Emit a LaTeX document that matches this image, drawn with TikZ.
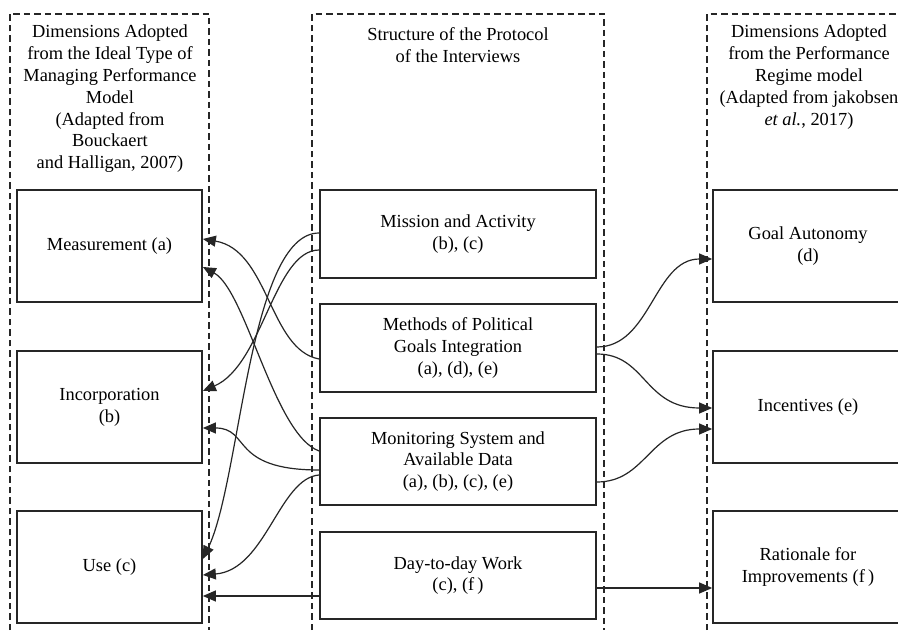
\documentclass[tikz,border=0pt]{standalone}
\usepackage{fontspec}
\setmainfont{Liberation Serif}
\usetikzlibrary{arrows.meta}
\begin{document}
\begin{tikzpicture}[x=1pt,y=1pt,
  font=\fontsize{18.4}{21.8}\selectfont,
  container/.style={draw=black!85, line width=1.4pt, dash pattern=on 6.5pt off 4pt},
  boxl/.style={draw=black!85, line width=1.7pt, minimum width=185pt, minimum height=112pt, align=center, inner sep=2pt},
  boxm/.style={draw=black!85, line width=1.7pt, minimum width=276pt, minimum height=88pt, align=center, inner sep=2pt},
  boxr/.style={draw=black!85, line width=1.7pt, minimum width=190pt, minimum height=112pt, align=center, inner sep=2pt},
  head/.style={align=center, inner sep=0pt},
  conn/.style={draw=black!85, line width=1.2pt, -{Triangle[length=13pt,width=11pt]}}
]
\useasboundingbox (0,0) rectangle (898,630);
\fill[white] (0,0) rectangle (898,630);

% dashed containers
\draw[container] (10,0) -- (10,616) -- (209,616) -- (209,0);
\draw[container] (312,0) -- (312,616) -- (604,616) -- (604,0);
\draw[container] (707,0) -- (707,616) -- (905,616);

% headers
\node[head] (hl) at (110,531) {Dimensions Adopted\\from the Ideal Type of\\Managing Performance\\Model\\(Adapted from\\Bouckaert\\and Halligan, 2007)};
\node[head] (hm) at (458,585) {Structure of the Protocol\\of the Interviews};
\node[head] (hr) at (809,553) {Dimensions Adopted\\from the Performance\\Regime model\\(Adapted from jakobsen\\\textit{et al.}, 2017)};

% left boxes
\node[boxl] (meas) at (109.5,384) {Measurement (a)};
\node[boxl] (inc) at (109.5,223) {Incorporation\\(b)};
\node[boxl] (use) at (109.5,63) {Use (c)};

% middle boxes
\node[boxm] (mission) at (458,396) {Mission and Activity\\(b), (c)};
\node[boxm] (methods) at (458,282) {Methods of Political\\Goals Integration\\(a), (d), (e)};
\node[boxm, minimum height=87pt] (monit) at (458,168.5) {Monitoring System and\\Available Data\\(a), (b), (c), (e)};
\node[boxm, minimum height=87pt] (day) at (458,54.5) {Day-to-day Work\\(c), (f\,)};

% right boxes
\node[boxr] (goal) at (808,384) {Goal Autonomy\\(d)};
\node[boxr] (incent) at (808,223) {Incentives (e)};
\node[boxr] (ratio) at (808,63) {Rationale for\\Improvements (f\,)};

% left connectors
\draw[conn] ([yshift=-11pt]methods.west) .. controls +(-50,9) and +(66,-11) .. ([yshift=7pt]meas.east);
\draw[conn] ([yshift=10.5pt]monit.west) .. controls +(-45,16) and +(43,-23) .. ([yshift=-21pt]meas.east);
\draw[conn] ([yshift=-16pt]mission.west) .. controls +(-45,0) and +(60,26) .. ([yshift=16pt]inc.east);
\draw[conn] ([yshift=-8.5pt]monit.west) .. controls +(-90,0) and +(48,0) .. ([yshift=-21pt]inc.east);
\draw[conn] ([yshift=1pt]mission.west) .. controls +(-70,0) and +(38,79) .. ([yshift=8pt]use.east);
\draw[conn] ([yshift=-13.5pt]monit.west) .. controls +(-40,-3) and +(63,5) .. ([yshift=-8pt]use.east);
\draw[conn] ([yshift=-20.5pt]day.west) -- ([yshift=-29pt]use.east);

% right connectors
\draw[conn] ([yshift=1pt]methods.east) .. controls +(54,0) and +(-58,0) .. ([yshift=-13pt]goal.west);
\draw[conn] ([yshift=-6pt]methods.east) .. controls +(49,0) and +(-68,0) .. ([yshift=-1pt]incent.west);
\draw[conn] ([yshift=-20.5pt]monit.east) .. controls +(49,0) and +(-63,0) .. ([yshift=-22pt]incent.west);
\draw[conn] ([yshift=-12.5pt]day.east) -- ([yshift=-21pt]ratio.west);
\end{tikzpicture}
\end{document}
